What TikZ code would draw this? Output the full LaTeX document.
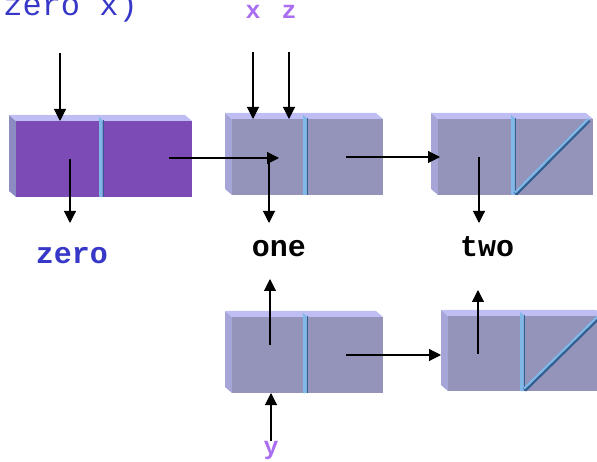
\documentclass[tikz,border=0pt]{standalone}
\usepackage{fontspec}
\newfontfamily\cour{Liberation Mono}
\usetikzlibrary{arrows.meta}
\definecolor{purpfront}{RGB}{125,75,182}
\definecolor{purpleft}{RGB}{140,140,195}
\definecolor{topband}{RGB}{190,190,245}
\definecolor{grayfront}{RGB}{148,148,186}
\definecolor{grayleft}{RGB}{165,165,215}
\definecolor{divlight}{RGB}{128,184,232}
\definecolor{divdark}{RGB}{50,95,145}
\definecolor{varpurple}{RGB}{170,110,240}
\definecolor{codeblue}{RGB}{55,55,200}
% #1 name, #2 left, #3 top, #4 right, #5 bottom, #6 divider x, #7 front colour, #8 side colour
\newcommand\conscell[8]{%
  \fill[#8] (#2,#3) -- (#2,#5) -- ({#2-7},{#5-6}) -- ({#2-7},{#3-6}) -- cycle;
  \fill[topband] (#2,#3) -- (#4,#3) -- ({#4-7},{#3-6}) -- ({#2-7},{#3-6}) -- cycle;
  \node[cellface, fill=#7, minimum width={#4-#2}, minimum height={#5-#3}, anchor=north west] (#1) at (#2,#3) {};
  \fill[divlight] (#6,#5) -- (#6,{#3-4}) -- ({#6+3.5},{#3-1}) -- ({#6+3.5},#5) -- cycle;
  \fill[divdark] ({#6+3.5},{#3-1}) rectangle ({#6+5},#5);
}
% #1 divider x, #2 top, #3 right, #4 bottom
\newcommand\nildiag[4]{%
  \draw[divdark, line width=4.2pt] ({#1+4.5},{#4-1}) -- ({#3-4},{#2+1});
  \draw[divlight, line width=2.2pt] ({#1+4},{#4-2.4}) -- ({#3-4.6},{#2-0.2});
}
\begin{document}
\begin{tikzpicture}[x=1pt,y=-1pt,
  cellface/.style={inner sep=0pt, outer sep=0pt, draw=none},
  ptr/.style={-{Triangle[length=12pt,width=12pt]}, line width=1.1pt, black},
  varlbl/.style={font=\cour\bfseries\fontsize{25}{25}\selectfont, text=varpurple, inner sep=0pt, anchor=base},
  namelbl/.style={font=\cour\bfseries\fontsize{30}{30}\selectfont, inner sep=0pt, anchor=base}]
\useasboundingbox (0,0) rectangle (597,462);
\clip (0,0) rectangle (597,462);

% code text, cut at the top-left
\node[font=\cour\fontsize{32}{32}\selectfont, text=codeblue, inner sep=0pt, anchor=base east] (code) at (138,16) {(zero x)};

% cells
\conscell{zeroc}{16}{121}{192}{197}{99}{purpfront}{purpleft}
\conscell{onec}{232}{119}{383}{195}{303}{grayfront}{grayleft}
\conscell{twoc}{438}{119}{593}{195}{511}{grayfront}{grayleft}
\nildiag{511}{119}{593}{195}
\conscell{ync}{232}{317}{383}{393}{303}{grayfront}{grayleft}
\conscell{y2c}{448}{316}{603}{391}{520}{grayfront}{grayleft}
\nildiag{520}{316}{603}{391}

% labels
\node[varlbl] (xl) at (253,19) {x};
\node[varlbl] (zl) at (289,19) {z};
\node[varlbl] (yl) at (271,454) {y};
\node[namelbl, text=codeblue] (zerol) at (72,264) {zero};
\node[namelbl] (onel) at (279,257) {one};
\node[namelbl] (twol) at (487,257) {two};

% pointer coordinates
\coordinate (topin) at (60,53);
\coordinate (zerocar) at (70,159);
\coordinate (zerodown) at (70,223);
\coordinate (zerocdr) at (169,158);
\coordinate (onein) at (279,158);
\coordinate (onecar) at (269,159);
\coordinate (onedown) at (269,223);
\coordinate (onecdr) at (346,157);
\coordinate (twoin) at (440,157);
\coordinate (twocar) at (479,157);
\coordinate (twodown) at (479,223);
\coordinate (yncar) at (270,345);
\coordinate (ynup) at (270,279);
\coordinate (yncdr) at (346,355);
\coordinate (y2in) at (441,355);
\coordinate (y2car) at (478,354);
\coordinate (y2up) at (478,290);

% connectors
\draw[ptr] (topin) -- (topin |- zeroc.north);
\draw[ptr] (zerocar) -- (zerodown);
\draw[ptr] (zerocdr) -- (onein);
\draw[ptr] (xl.south) ++(0,33) -- (xl |- onec.north);
\draw[ptr] (zl.south) ++(0,33) -- (zl |- onec.north);
\draw[ptr] (onecar) -- (onedown);
\draw[ptr] (onecdr) -- (twoin);
\draw[ptr] (twocar) -- (twodown);
\draw[ptr] (yncar) -- (ynup);
\draw[ptr] (yl.north) -- (yl |- ync.south);
\draw[ptr] (yncdr) -- (y2in);
\draw[ptr] (y2car) -- (y2up);
\end{tikzpicture}
\end{document}
